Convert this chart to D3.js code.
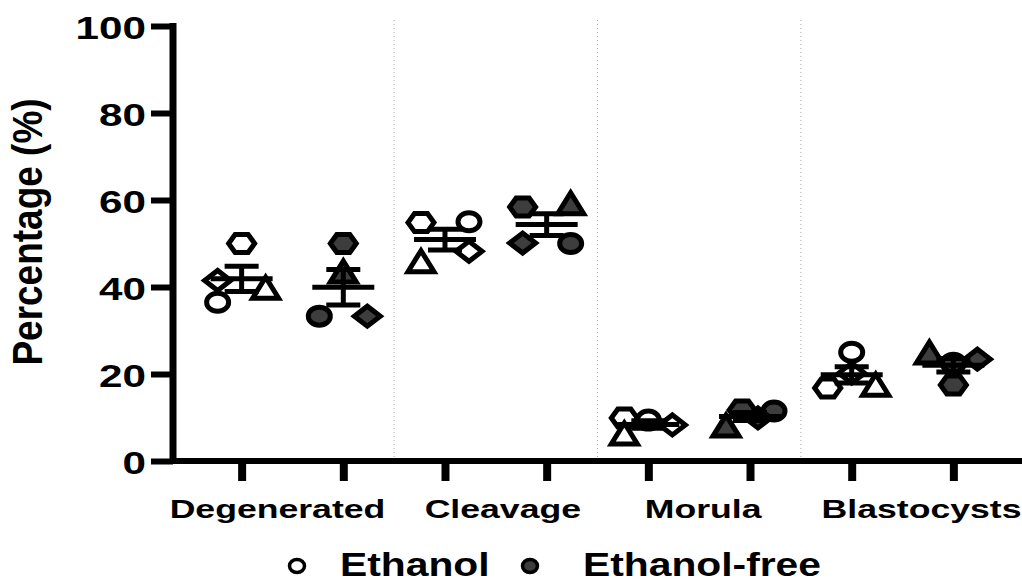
<!DOCTYPE html>
<html>
<head>
<meta charset="utf-8">
<script src="https://cdn.jsdelivr.net/npm/d3@7"></script>
<style>
  html, body { margin: 0; padding: 0; background: #fff; }
  svg { display: block; }
  text { font-family: "Liberation Sans", Arial, sans-serif; font-weight: bold; fill: #000; }
</style>
</head>
<body>
<svg id="chart" width="1022" height="584"></svg>
<script>
// Embryo development outcome per replicate (%)
const categories = ["Degenerated", "Cleavage", "Morula", "Blastocysts"];
const seriesNames = ["Ethanol", "Ethanol-free"];
const replicateShapes = ["circle", "hexagon", "triangle", "diamond"];
// rows follow categories, columns follow replicateShapes
const ethanolValues = [
  [36.5, 50.0, 39.5, 41.5],
  [55.0, 54.8, 45.6, 48.2],
  [9.4, 9.9, 6.0, 8.3],
  [25.0, 16.8, 17.2, 20.2]
];
const ethanolFreeValues = [
  [33.3, 50.0, 43.2, 33.3],
  [50.0, 58.4, 58.9, 50.1],
  [11.5, 11.7, 7.8, 9.9],
  [22.5, 17.5, 24.6, 23.4]
];
const yTicks = [0, 20, 40, 60, 80, 100];

const seriesValues = { "Ethanol": ethanolValues, "Ethanol-free": ethanolFreeValues };
const seriesFill = { "Ethanol": "#ffffff", "Ethanol-free": "#3d3d3d" };

// horizontal spread of overlapping replicate points (in units of one jitter step)
const jitterSlots = {
  "Ethanol":      [[-1, 0, 1, -1], [1, -1, -1, 1], [0, -1, -1, 1], [0, -1, 1, 0]],
  "Ethanol-free": [[-1, 0, 0, 1], [1, -1, 1, -1], [1, -0.33, -1, 0.33], [0, 0, -1, 1]]
};
const jitterStep = 24;

const svg = d3.select("#chart");
const W = 1022;
const axisX = 173;

const keys = [];
categories.forEach(c => seriesNames.forEach(s => keys.push(c + "|" + s)));

const x = d3.scalePoint().domain(keys).range([axisX, W]).padding(0.675);
const y = d3.scaleLinear().domain([0, 100]).range([461, 26]);

// dotted separators between categories
const step = x.step();
for (let i = 1; i < categories.length; i++) {
  const sx = x(categories[i] + "|" + seriesNames[0]) - step / 2;
  svg.append("line")
    .attr("x1", sx).attr("x2", sx)
    .attr("y1", y(100) - 6).attr("y2", y(0))
    .attr("stroke", "#aaa").attr("stroke-width", 1)
    .attr("stroke-dasharray", "1,3");
}

// shape paths centred on (0,0)
function shapePath(shape) {
  switch (shape) {
    case "hexagon": return "M-13,0L-6.5,-9L6.5,-9L13,0L6.5,9L-6.5,9Z";
    case "triangle": return "M-13,9L13,9L0,-12Z";
    case "diamond": return "M-13,0L0,-10L13,0L0,10Z";
    default: return null;
  }
}

// replicate points
seriesNames.forEach(s => {
  categories.forEach((c, ci) => {
    const cx = x(c + "|" + s);
    seriesValues[s][ci].forEach((v, ri) => {
      const shape = replicateShapes[ri];
      const px = cx + jitterSlots[s][ci][ri] * jitterStep;
      const py = y(v);
      const g = svg.append("g").attr("transform", `translate(${px},${py})`);
      if (shape === "circle") {
        g.append("ellipse").attr("rx", 11).attr("ry", 9);
      } else {
        g.append("path").attr("d", shapePath(shape));
      }
      g.selectAll("ellipse,path")
        .attr("fill", seriesFill[s])
        .attr("stroke", "#000")
        .attr("stroke-width", 5)
        .attr("stroke-linejoin", "miter");
    });
  });
});

// mean and SEM
seriesNames.forEach(s => {
  categories.forEach((c, ci) => {
    const vals = seriesValues[s][ci];
    const m = d3.mean(vals);
    const sem = d3.deviation(vals) / Math.sqrt(vals.length);
    const cx = x(c + "|" + s);
    const g = svg.append("g").attr("stroke", "#000").attr("stroke-width", 5);
    g.append("line").attr("x1", cx - 31).attr("x2", cx + 31).attr("y1", y(m)).attr("y2", y(m));
    g.append("line").attr("x1", cx).attr("x2", cx).attr("y1", y(m + sem)).attr("y2", y(m - sem));
    [m + sem, m - sem].forEach(e => {
      g.append("line").attr("x1", cx - 17).attr("x2", cx + 17).attr("y1", y(e)).attr("y2", y(e));
    });
  });
});

// y axis
const yAxis = svg.append("g")
  .attr("transform", `translate(${axisX},0)`)
  .call(d3.axisLeft(y).tickValues(yTicks).tickSize(22).tickSizeOuter(0).tickFormat(d3.format("d")));
yAxis.select(".domain").attr("stroke", "#000").attr("stroke-width", 7)
  .attr("d", `M0,${y(100) - 3}V${y(0) + 3}`);
yAxis.selectAll(".tick line").attr("stroke", "#000").attr("stroke-width", 6);
yAxis.selectAll(".tick text")
  .attr("x", null).attr("dy", null)
  .attr("transform", "translate(-27,12) scale(1.32,1)")
  .attr("text-anchor", "end")
  .style("font-size", "32px")
  .style("font-family", "'Liberation Sans', Arial, sans-serif")
  .style("font-weight", "bold")
  .attr("fill", "#000");

// x axis
const xAxis = svg.append("g")
  .attr("transform", `translate(0,${y(0)})`)
  .call(d3.axisBottom(x).tickSize(20).tickSizeOuter(0).tickFormat(""));
xAxis.select(".domain").attr("stroke", "#000").attr("stroke-width", 6)
  .attr("d", `M${axisX - 3},0H${W}`);
xAxis.selectAll(".tick line").attr("stroke", "#000").attr("stroke-width", 8);
xAxis.selectAll(".tick text").remove();

// category labels
const labelNudge = { "Degenerated": -15, "Cleavage": 7, "Morula": 4, "Blastocysts": 19 };
categories.forEach(c => {
  const cx = (x(c + "|" + seriesNames[0]) + x(c + "|" + seriesNames[1])) / 2 + labelNudge[c];
  svg.append("text")
    .attr("transform", `translate(${cx},518) scale(1.37,1)`)
    .attr("text-anchor", "middle")
    .style("font-size", "26px")
    .text(c);
});

// y axis title
svg.append("text")
  .attr("transform", "translate(42,232) scale(1.15,1) rotate(-90)")
  .attr("text-anchor", "middle")
  .style("font-size", "37px")
  .text("Percentage (%)");

// legend
const legendItems = [
  { name: seriesNames[0], mx: 297, tx: 340 },
  { name: seriesNames[1], mx: 530, tx: 583 }
];
legendItems.forEach(d => {
  svg.append("ellipse")
    .attr("cx", d.mx).attr("cy", 566).attr("rx", 7.5).attr("ry", 6.5)
    .attr("fill", seriesFill[d.name]).attr("stroke", "#000").attr("stroke-width", 3.5);
  svg.append("text")
    .attr("transform", `translate(${d.tx},576) scale(1.2,1)`)
    .style("font-size", "34px")
    .text(d.name);
});
</script>
</body>
</html>
